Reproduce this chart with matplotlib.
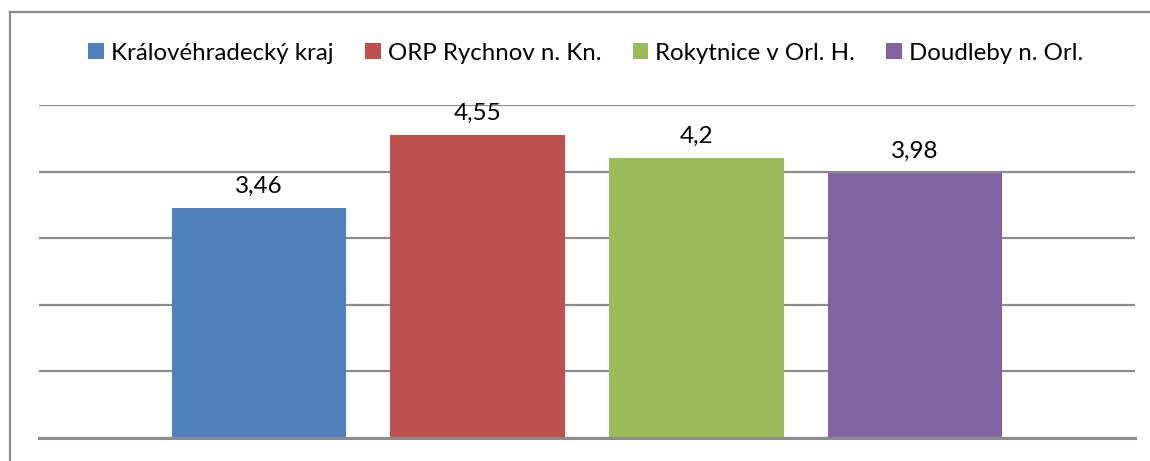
import matplotlib
matplotlib.use("Agg")
import matplotlib.pyplot as plt
from matplotlib.patches import Patch
from matplotlib.lines import Line2D

series = ["Královéhradecký kraj", "ORP Rychnov n. Kn.", "Rokytnice v Orl. H.", "Doudleby n. Orl."]
values = [3.46, 4.55, 4.2, 3.98]
labels = ["3,46", "4,55", "4,2", "3,98"]
colors = ["#4F81BD", "#C0504D", "#9BBB59", "#8064A2"]

plt.rcParams['font.family'] = ['Lato', 'DejaVu Sans']

W, H = 1150, 461
fig = plt.figure(figsize=(W/100, H/100), dpi=100)
ax = fig.add_axes([39/W, (H-438)/H, (1135-39)/W, (438-105)/H])

x = list(range(len(values)))
ax.bar(x, values, width=0.8, color=colors, zorder=3)
for xi, v, lab in zip(x, values, labels):
    ax.annotate(lab, (xi, v), xytext=(0, 8), textcoords='offset points',
                ha='center', va='bottom', fontsize=17.5, color='#000000')

ax.set_ylim(0, 5)
ax.set_xlim(-1.006, 4.006)
ax.set_yticks([0, 1, 2, 3, 4, 5])
ax.set_yticklabels([])
ax.set_xticks([])
ax.tick_params(left=False, bottom=False)
ax.yaxis.grid(True, color='#8C8C8C', linewidth=1.6, zorder=0)
for s in ['left', 'right', 'top']:
    ax.spines[s].set_visible(False)
ax.spines['bottom'].set_color('#8C8C8C')
ax.spines['bottom'].set_linewidth(2.2)
ax.spines['bottom'].set_zorder(4)

# outer chart border (left and top visible)
fig.add_artist(Line2D([9.5/W, 9.5/W], [0, (H-12)/H], color='#8C8C8C', linewidth=1.6, transform=fig.transFigure))
fig.add_artist(Line2D([9.5/W, 1], [(H-12)/H, (H-12)/H], color='#8C8C8C', linewidth=1.6, transform=fig.transFigure))

handles = [Patch(facecolor=c, edgecolor='none') for c in colors]
fig.legend(handles, series, loc='center', bbox_to_anchor=(586/W, (H-53)/H), ncol=4,
           frameon=False, fontsize=17.3, handlelength=0.65, handleheight=0.65,
           handletextpad=0.3, columnspacing=1.3)

fig.savefig("out.png", dpi=100)
